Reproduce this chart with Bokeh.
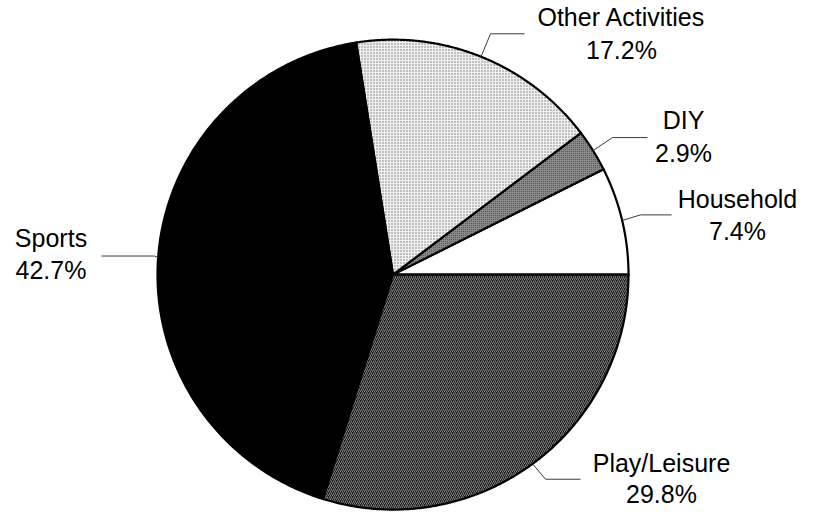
import numpy as np
from bokeh.plotting import figure
from bokeh.models import Range1d, ColumnDataSource
from bokeh.embed import file_html
from bokeh.resources import INLINE
from bokeh.core.properties import value

# ---- data ----
categories = ["Household", "DIY", "Other Activities", "Sports", "Play/Leisure"]
shares = [7.4, 2.9, 17.2, 42.7, 29.8]
pct_labels = ["7.4%", "2.9%", "17.2%", "42.7%", "29.8%"]

# ---- styles ----
fills = ["#ffffff", "#8a8a8a", "#efefef", "#000000", "#1c1c1c"]
hatches = [" ", "dot", "dot", " ", "right_diagonal_line"]
hatch_colors = ["#000000", "#444444", "#7a7a7a", "#000000", "#808080"]
hatch_scales = [4, 2, 3, 4, 4]

# ---- layout (screen pixels, top-left origin) ----
W, H = 799, 511
S = 0.979                      # vertical squeeze so the whole fits
TEXT_SHIFT = 9.5               # baseline compensation for the text renderer
CX, CY, RX, RY = 392.5, 280.0, 235.5, 240.0
label_x_pg = [737, 683, 621, 50.5, 661]
label_b1_pg = [212, 132, 27, 252, 482]
label_b2_pg = [245, 165, 60, 285, 514]
elbow_pg = [(640, 219), (612, 140), (490, 34), (154, 261), (545, 489)]
end_pg = [(671, 219), (647, 140), (524, 34), (101, 261), (580, 489)]


def fy(v):
    return H - S * v


def fty(v):
    return H - (S * v - TEXT_SHIFT)


cx, cy, rx, ry = CX, fy(CY), RX, RY * S

total = float(sum(shares))
bounds = np.concatenate([[0.0], np.cumsum(shares)]) / total * 2 * np.pi

xs, ys = [], []
lxs, lys = [], []
for i in range(len(shares)):
    t = np.linspace(bounds[i], bounds[i + 1], 240)
    xs.append([cx] + list(cx + rx * np.cos(t)))
    ys.append([cy] + list(cy + ry * np.sin(t)))
    mid = 0.5 * (bounds[i] + bounds[i + 1])
    sx, sy = cx + rx * np.cos(mid), cy + ry * np.sin(mid)
    lxs.append([sx, elbow_pg[i][0], end_pg[i][0]])
    lys.append([sy, fy(elbow_pg[i][1]), fy(end_pg[i][1])])

p = figure(width=W, height=H, output_backend="svg", toolbar_location=None,
           x_range=Range1d(0, W), y_range=Range1d(0, H), min_border=0)
p.axis.visible = False
p.grid.visible = False
p.outline_line_color = None
p.background_fill_color = "white"
p.border_fill_color = "white"

src = ColumnDataSource(dict(xs=xs, ys=ys, fill=fills, hatch=hatches,
                            hcol=hatch_colors, hs=hatch_scales, name=categories))
p.patches("xs", "ys", source=src, fill_color="fill", hatch_pattern="hatch",
          hatch_color="hcol", hatch_scale="hs", hatch_weight=1,
          line_color="black", line_width=2.2, line_join="miter")

p.multi_line(lxs, lys, line_color="#3a3a3a", line_width=1)

tsrc = ColumnDataSource(dict(x=label_x_pg,
                             y1=[fty(v) for v in label_b1_pg],
                             y2=[fty(v) for v in label_b2_pg],
                             name=categories, pct=pct_labels))
for col, ycol in (("name", "y1"), ("pct", "y2")):
    p.text(x="x", y=ycol, text=col, source=tsrc, text_align="center",
           text_baseline="alphabetic", text_color="black",
           text_font=value("Liberation Sans"), text_font_size=value("25px"))

open("out.html", "w").write(file_html(p, INLINE))
